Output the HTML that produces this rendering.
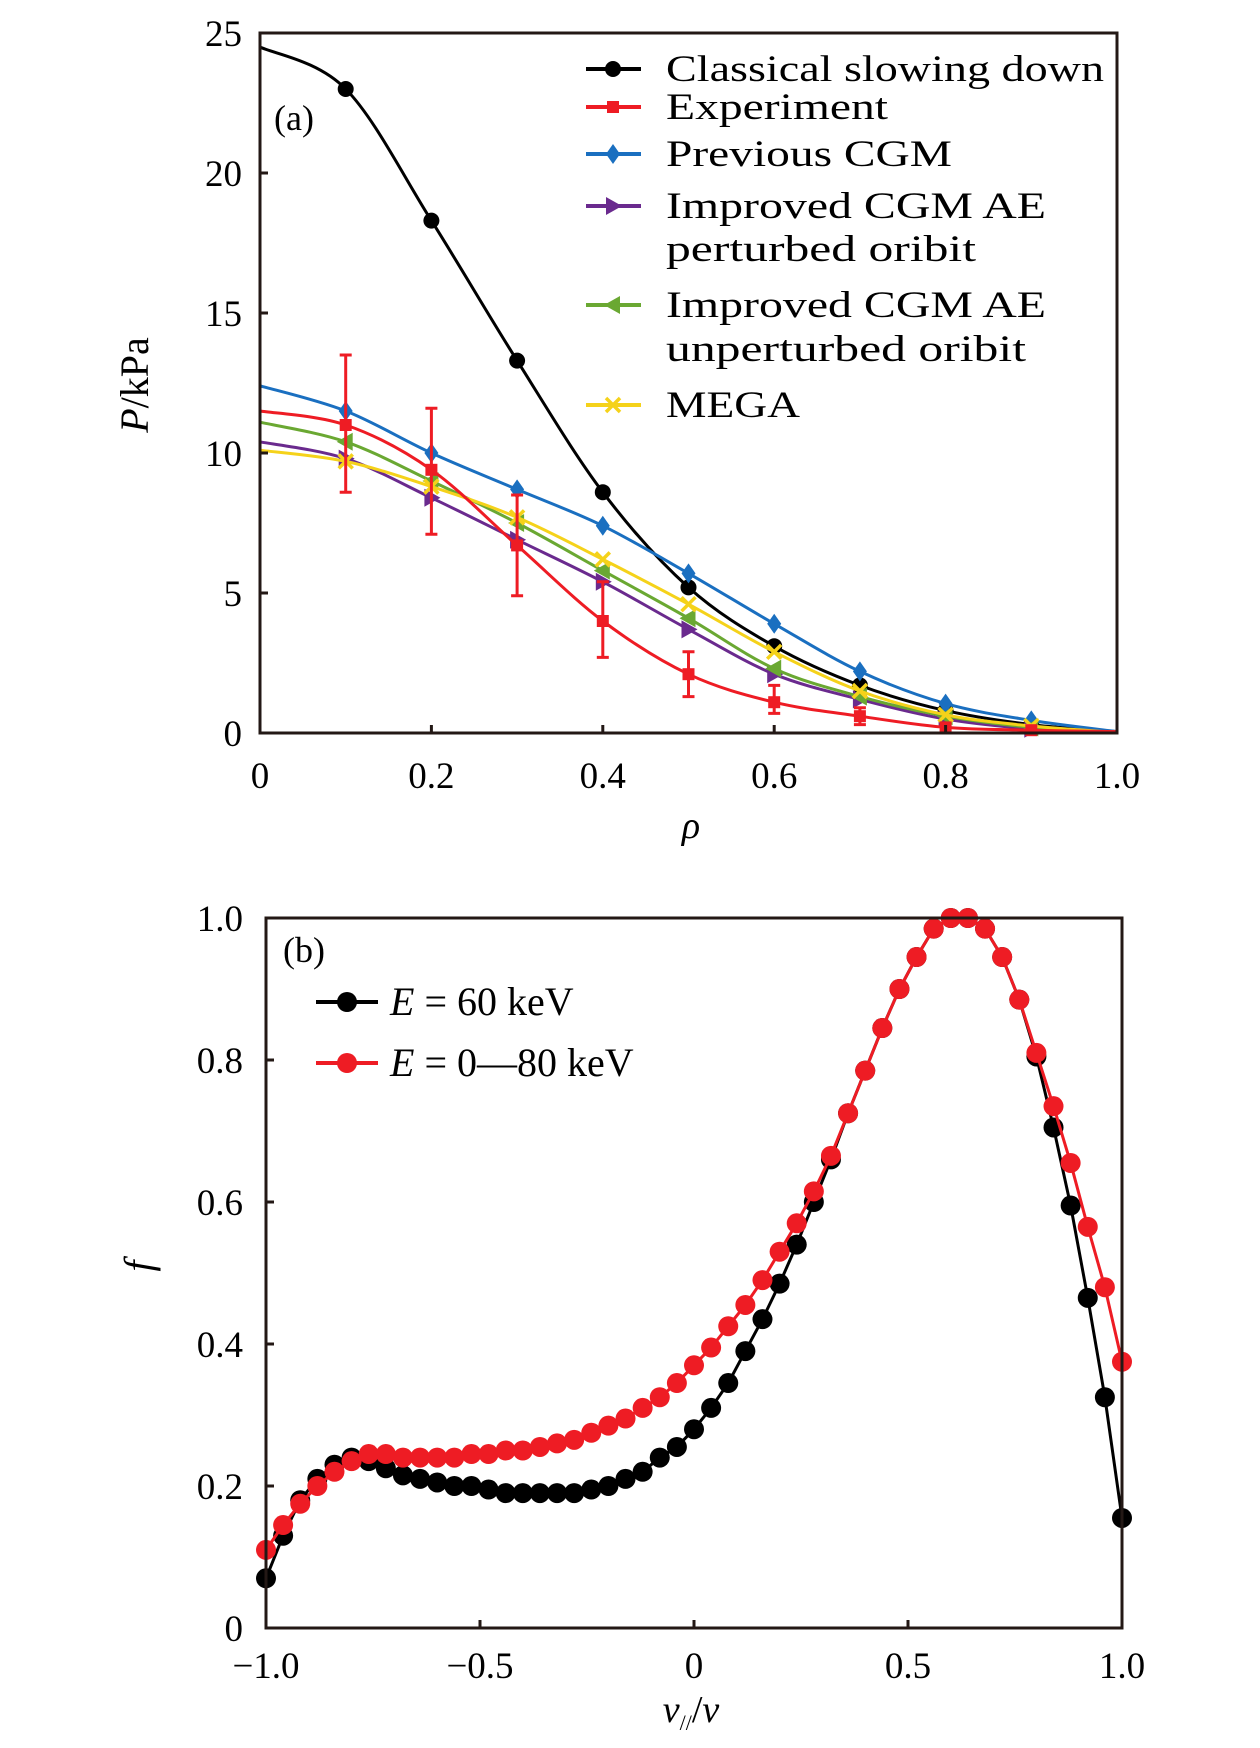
<!DOCTYPE html>
<html><head><meta charset="utf-8"><style>
html,body{margin:0;padding:0;background:#fff;}
svg{display:block;font-family:"Liberation Serif",serif;}
</style></head><body>
<svg id="fig" width="1260" height="1748" viewBox="0 0 1260 1748">
<g id="pa"></g>
<g id="pb"></g>
</svg>
<script>
const NS="http://www.w3.org/2000/svg";
// ---------- Panel (a) data ----------
const aX=[0,0.1,0.2,0.3,0.4,0.5,0.6,0.7,0.8,0.9,1.0];
const aClassical=[24.5,23.0,18.3,13.3,8.6,5.2,3.1,1.7,0.8,0.3,0.05];
const aExperiment=[11.5,11.0,9.4,6.7,4.0,2.1,1.1,0.6,0.2,0.1,0.05];
const aExpLow=[null,8.6,7.1,4.9,2.7,1.3,0.7,0.3,null,null,null];
const aExpHigh=[null,13.5,11.6,8.5,5.4,2.9,1.7,0.9,null,null,null];
const aPrevious=[12.4,11.5,10.0,8.7,7.4,5.7,3.9,2.2,1.05,0.45,0.05];
const aPerturbed=[10.4,9.8,8.4,6.9,5.4,3.7,2.1,1.2,0.5,0.15,0.02];
const aUnperturbed=[11.1,10.4,9.0,7.5,5.8,4.1,2.3,1.3,0.6,0.2,0.02];
const aMega=[10.1,9.7,8.8,7.7,6.2,4.6,2.9,1.5,0.65,0.25,0.02];
const aXTicks=[0,0.2,0.4,0.6,0.8,1.0];
const aXTickLabels=["0","0.2","0.4","0.6","0.8","1.0"];
const aYTicks=[0,5,10,15,20,25];
const aYTickLabels=["0","5","10","15","20","25"];
// ---------- Panel (b) data ----------
const bX=[];for(let k=0;k<=50;k++)bX.push(-1+0.04*k);
const b60=[0.07,0.13,0.18,0.21,0.23,0.24,0.235,0.225,0.215,0.21,0.205,0.20,0.20,0.195,0.19,0.19,0.19,0.19,0.19,0.195,0.20,0.21,0.22,0.24,0.255,0.28,0.31,0.345,0.39,0.435,0.485,0.54,0.60,0.66,0.725,0.785,0.845,0.90,0.945,0.985,1.0,1.0,0.985,0.945,0.885,0.805,0.705,0.595,0.465,0.325,0.155];
const b080=[0.11,0.145,0.175,0.20,0.22,0.235,0.245,0.245,0.24,0.24,0.24,0.24,0.245,0.245,0.25,0.25,0.255,0.26,0.265,0.275,0.285,0.295,0.31,0.325,0.345,0.37,0.395,0.425,0.455,0.49,0.53,0.57,0.615,0.665,0.725,0.785,0.845,0.90,0.945,0.985,1.0,1.0,0.985,0.945,0.885,0.81,0.735,0.655,0.565,0.48,0.375];
const bXTicks=[-1,-0.5,0,0.5,1];
const bXTickLabels=["\u22121.0","\u22120.5","0","0.5","1.0"];
const bYTicks=[0,0.2,0.4,0.6,0.8,1.0];
const bYTickLabels=["0","0.2","0.4","0.6","0.8","1.0"];

function el(tag,attrs,parent){const e=document.createElementNS(NS,tag);for(const k in attrs)e.setAttribute(k,attrs[k]);parent.appendChild(e);return e;}
function txt(s,attrs,parent){const e=el("text",attrs,parent);e.textContent=s;return e;}
function smooth(pts){let d="M"+pts[0][0]+","+pts[0][1];for(let i=0;i<pts.length-1;i++){const p0=pts[i-1]||pts[i],p1=pts[i],p2=pts[i+1],p3=pts[i+2]||p2;const c1=[p1[0]+(p2[0]-p0[0])/6,p1[1]+(p2[1]-p0[1])/6],c2=[p2[0]-(p3[0]-p1[0])/6,p2[1]-(p3[1]-p1[1])/6];d+=" C"+c1[0]+","+c1[1]+" "+c2[0]+","+c2[1]+" "+p2[0]+","+p2[1];}return d;}
function marker(type,x,y,c,g){
 if(type==="circle")return el("circle",{cx:x,cy:y,r:8,fill:c},g);
 if(type==="square")return el("rect",{x:x-6,y:y-6,width:12,height:12,fill:c},g);
 if(type==="diamond")return el("polygon",{points:`${x},${y-10} ${x+7},${y} ${x},${y+10} ${x-7},${y}`,fill:c},g);
 if(type==="right")return el("polygon",{points:`${x-7},${y-9} ${x+9},${y} ${x-7},${y+9}`,fill:c},g);
 if(type==="left")return el("polygon",{points:`${x+7},${y-9} ${x-9},${y} ${x+7},${y+9}`,fill:c},g);
 if(type==="x"){return el("path",{d:`M${x-7},${y-7}L${x+7},${y+7}M${x+7},${y-7}L${x-7},${y+7}`,stroke:c,"stroke-width":3.5},g);}
}
function axesFrame(g,L,R,T,B){el("rect",{x:L,y:T,width:R-L,height:B-T,fill:"none",stroke:"#231815","stroke-width":3},g);}

// ===== Panel A =====
(function(){
const g=document.getElementById("pa");
const L=260,R=1117,T=33,B=733;
const sx=v=>L+(v-0)/(1-0)*(R-L), sy=v=>B-(v/25)*(B-T);
const series=[
 {name:"classical",data:aClassical,c:"#000",m:"circle"},
 {name:"previous-cgm",data:aPrevious,c:"#1a6fc0",m:"diamond"},
 {name:"improved-perturbed",data:aPerturbed,c:"#6a2a8e",m:"right"},
 {name:"improved-unperturbed",data:aUnperturbed,c:"#6aa832",m:"left"},
 {name:"mega",data:aMega,c:"#f5d21a",m:"x"},
 {name:"experiment",data:aExperiment,c:"#ee1c24",m:"square"}];
series.forEach(s=>{
 const sg=el("g",{},g);
 
 
 const pts=aX.map((x,i)=>[sx(x),sy(s.data[i])]);
 el("path",{d:smooth(pts),fill:"none",stroke:s.c,"stroke-width":3},sg);
 if(s.name==="experiment"){aX.forEach((x,i)=>{if(aExpLow[i]==null)return;const X=sx(x);el("path",{d:`M${X},${sy(aExpLow[i])}V${sy(aExpHigh[i])}M${X-6},${sy(aExpLow[i])}h12M${X-6},${sy(aExpHigh[i])}h12`,stroke:s.c,"stroke-width":3,fill:"none"},sg);});}
 aX.forEach((x,i)=>{if(i===0||i===10)return;const mk=marker(s.m,sx(x),sy(s.data[i]),s.c,sg);});
});
axesFrame(g,L,R,T,B);
aXTicks.forEach((v,i)=>{el("line",{x1:sx(v),x2:sx(v),y1:B,y2:B-8,stroke:"#231815","stroke-width":3},g);const t=txt(aXTickLabels[i],{x:sx(v),y:788,"font-size":37,"text-anchor":"middle"},g);});
aYTicks.forEach((v,i)=>{el("line",{x1:L,x2:L+8,y1:sy(v),y2:sy(v),stroke:"#231815","stroke-width":3},g);const t=txt(aYTickLabels[i],{x:242,y:sy(v)+13,"font-size":37,"text-anchor":"end"},g);});
const yl=txt("",{transform:"translate(148,385) rotate(-90)","font-size":40,"text-anchor":"middle"},g);
yl.innerHTML='<tspan font-style="italic">P</tspan>/kPa';

const xl=txt("ρ",{x:691,y:838,"font-size":38,"font-style":"italic","text-anchor":"middle"},g);

const pl=txt("(a)",{x:274,y:130,"font-size":36},g);
const leg=[["Classical slowing down",69,"#000","circle",438],["Experiment",107,"#ee1c24","square",222],["Previous CGM",154,"#1a6fc0","diamond",286],["Improved CGM AE",206,"#6a2a8e","right",380],["Improved CGM AE",305,"#6aa832","left",380],["MEGA",405,"#f5d21a","x",134]];
const lg=el("g",{},g);
leg.forEach(l=>{const eg=el("g",{},lg);
 el("line",{x1:586,x2:641,y1:l[1],y2:l[1],stroke:l[2],"stroke-width":4},eg);marker(l[3],613,l[1],l[2],eg);
 txt(l[0],{x:666,y:l[1]+12,"font-size":37,textLength:l[4],lengthAdjust:"spacingAndGlyphs"},eg);});
txt("perturbed oribit",{x:666,y:261,"font-size":37,textLength:310,lengthAdjust:"spacingAndGlyphs"},lg);
txt("unperturbed oribit",{x:666,y:361,"font-size":37,textLength:360,lengthAdjust:"spacingAndGlyphs"},lg);
})();

// ===== Panel B =====
(function(){
const g=document.getElementById("pb");
const L=266,R=1122,T=918,B=1628;
const sx=v=>L+(v+1)/2*(R-L), sy=v=>B-v*(B-T);
[["e60",b60,"#000"],["e0-80",b080,"#ee1c24"]].forEach(s=>{
 const sg=el("g",{},g);
 const pts=bX.map((x,i)=>sx(x)+","+sy(s[1][i]));
 el("polyline",{points:pts.join(" "),fill:"none",stroke:s[2],"stroke-width":3},sg);
 bX.forEach((x,i)=>{const c=el("circle",{cx:sx(x),cy:sy(s[1][i]),r:10,fill:s[2]},sg);});
});
axesFrame(g,L,R,T,B);
bXTicks.forEach((v,i)=>{el("line",{x1:sx(v),x2:sx(v),y1:B,y2:B-8,stroke:"#231815","stroke-width":3},g);const t=txt(bXTickLabels[i],{x:sx(v),y:1678,"font-size":37,"text-anchor":"middle"},g);});
bYTicks.forEach((v,i)=>{el("line",{x1:L,x2:L+8,y1:sy(v),y2:sy(v),stroke:"#231815","stroke-width":3},g);const t=txt(bYTickLabels[i],{x:243,y:sy(v)+13,"font-size":37,"text-anchor":"end"},g);});
const yl=txt("f",{transform:"translate(152,1266) rotate(-90)","font-size":40,"font-style":"italic","text-anchor":"middle"},g);

const xl=txt("",{x:691,y:1722,"font-size":38,"text-anchor":"middle"},g);
xl.innerHTML='<tspan font-style="italic">v</tspan><tspan font-size="22" dy="8">//</tspan><tspan dy="-8">/</tspan><tspan font-style="italic">v</tspan>';

const pl=txt("(b)",{x:283,y:962,"font-size":36},g);
const lg=el("g",{},g);
[["60 keV",1002,"#000",198],["0—80 keV",1063,"#ee1c24",290]].forEach(l=>{const eg=el("g",{},lg);
 el("line",{x1:316,x2:378,y1:l[1],y2:l[1],stroke:l[2],"stroke-width":4},eg);el("circle",{cx:347,cy:l[1],r:10,fill:l[2]},eg);
 const t=txt("",{x:390,y:l[1]+13,"font-size":40},eg);t.innerHTML='<tspan font-style="italic">E</tspan> = '+l[0];});
})();
</script>
</body></html>
